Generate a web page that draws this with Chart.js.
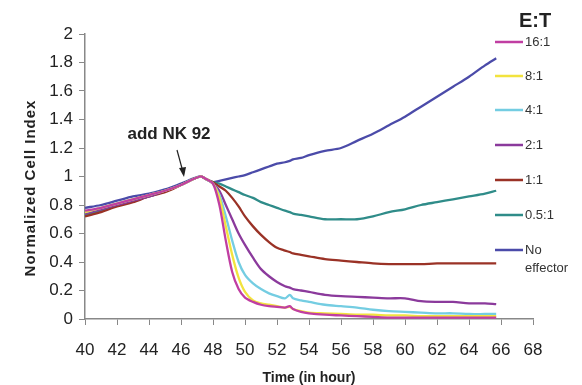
<!DOCTYPE html>
<html>
<head>
<meta charset="utf-8">
<script src="https://cdn.jsdelivr.net/npm/chart.js@4/dist/chart.umd.min.js"></script>
<style>
  html, body { margin: 0; padding: 0; background: #fff; }
  #wrap { width: 582px; height: 385px; }
</style>
</head>
<body>
<div id="wrap"><canvas id="cellChart" width="582" height="385"></canvas></div>
<script>
// time points (hours) shared by all curves
const hours = [40, 41, 42, 43, 44, 45, 46, 47.2, 47.6, 48, 48.4, 48.8, 49.2, 49.6, 50, 50.5, 51, 51.5, 52, 52.5,
  52.8, 53, 53.5, 54, 55, 56, 57, 58, 59, 60, 61, 62, 63, 64, 65, 65.7];

const ratioLabels = ['16:1', '8:1', '4:1', '2:1', '1:1', '0.5:1', 'No effector'];
const ratioColors = ['#c03ea2', '#f2e33e', '#74cde2', '#8b3a9c', '#9a3226', '#2f8c89', '#4b4ba9'];

const et16 = [0.76, 0.78, 0.81, 0.84, 0.87, 0.90, 0.94, 1.00, 0.98, 0.95, 0.80, 0.55, 0.33, 0.21, 0.15, 0.12, 0.10, 0.09, 0.085, 0.08,
  0.09, 0.07, 0.05, 0.04, 0.03, 0.025, 0.02, 0.015, 0.01, 0.01, 0.01, 0.01, 0.01, 0.01, 0.01, 0.01];
const et8 = [0.75, 0.78, 0.81, 0.84, 0.87, 0.90, 0.94, 1.00, 0.98, 0.95, 0.85, 0.65, 0.45, 0.29, 0.19, 0.13, 0.11, 0.10, 0.09, 0.08,
  0.085, 0.07, 0.055, 0.045, 0.04, 0.035, 0.03, 0.03, 0.025, 0.025, 0.02, 0.02, 0.02, 0.02, 0.02, 0.02];
const et4 = [0.75, 0.78, 0.81, 0.84, 0.87, 0.90, 0.94, 1.00, 0.98, 0.95, 0.87, 0.72, 0.55, 0.40, 0.31, 0.25, 0.21, 0.18, 0.16, 0.145,
  0.17, 0.145, 0.13, 0.12, 0.10, 0.09, 0.08, 0.065, 0.055, 0.05, 0.045, 0.04, 0.04, 0.035, 0.035, 0.035];
const et2 = [0.74, 0.77, 0.80, 0.83, 0.86, 0.90, 0.94, 1.00, 0.98, 0.95, 0.90, 0.80, 0.70, 0.60, 0.52, 0.43, 0.35, 0.30, 0.26, 0.23,
  0.22, 0.21, 0.20, 0.19, 0.17, 0.16, 0.155, 0.15, 0.145, 0.145, 0.125, 0.12, 0.12, 0.11, 0.11, 0.105];
const et1 = [0.72, 0.75, 0.79, 0.82, 0.86, 0.89, 0.94, 1.00, 0.98, 0.96, 0.93, 0.90, 0.85, 0.79, 0.72, 0.65, 0.59, 0.54, 0.50, 0.48,
  0.47, 0.46, 0.45, 0.44, 0.42, 0.41, 0.40, 0.39, 0.385, 0.385, 0.385, 0.39, 0.39, 0.39, 0.39, 0.39];
const etHalf = [0.73, 0.76, 0.80, 0.83, 0.86, 0.90, 0.94, 1.00, 0.98, 0.96, 0.95, 0.93, 0.91, 0.89, 0.87, 0.85, 0.82, 0.80, 0.78, 0.76,
  0.75, 0.74, 0.73, 0.72, 0.70, 0.70, 0.70, 0.72, 0.75, 0.77, 0.80, 0.82, 0.84, 0.86, 0.88, 0.90];
const noEffector = [0.78, 0.80, 0.83, 0.86, 0.88, 0.91, 0.95, 1.00, 0.98, 0.96, 0.97, 0.98, 0.99, 1.00, 1.01, 1.03, 1.05, 1.07, 1.09, 1.10,
  1.11, 1.12, 1.13, 1.15, 1.18, 1.20, 1.25, 1.30, 1.36, 1.42, 1.49, 1.56, 1.63, 1.70, 1.78, 1.83];

const seriesValues = [et16, et8, et4, et2, et1, etHalf, noEffector];

const fontFam = '"Liberation Sans", Arial, sans-serif';

// legend, y title and the "add NK 92" note
const extrasPlugin = {
  id: 'extras',
  afterDraw(chart) {
    const ctx = chart.ctx;
    ctx.save();

    // y axis title
    ctx.fillStyle = '#222';
    ctx.font = 'bold 15px ' + fontFam;
    ctx.letterSpacing = '1px';
    ctx.textAlign = 'center';
    ctx.textBaseline = 'middle';
    ctx.translate(31, 188);
    ctx.rotate(-Math.PI / 2);
    ctx.fillText('Normalized Cell Index', 0, 0);
    ctx.setTransform(1, 0, 0, 1, 0, 0);
    ctx.letterSpacing = '0px';

    // annotation
    ctx.font = 'bold 17px ' + fontFam;
    ctx.fillText('add NK 92', 169, 134);
    ctx.strokeStyle = '#222';
    ctx.lineWidth = 1.2;
    ctx.beginPath();
    ctx.moveTo(177, 150);
    ctx.lineTo(183, 172);
    ctx.stroke();
    ctx.beginPath();
    ctx.moveTo(184, 177);
    ctx.lineTo(179, 168);
    ctx.lineTo(186, 167);
    ctx.closePath();
    ctx.fillStyle = '#222';
    ctx.fill();

    // legend
    ctx.font = 'bold 20px ' + fontFam;
    ctx.fillText('E:T', 535, 21);
    ctx.font = '13px ' + fontFam;
    ctx.textAlign = 'left';
    ctx.fillStyle = '#333';
    const rowY = [42, 76, 110, 145, 180, 215, 250];
    chart.data.datasets.forEach((ds, i) => {
      const y = rowY[i];
      ctx.strokeStyle = ds.borderColor;
      ctx.lineWidth = 2.5;
      ctx.beginPath();
      ctx.moveTo(495, y);
      ctx.lineTo(523, y);
      ctx.stroke();
      if (ds.label === 'No effector') {
        ctx.fillText('No', 525, y);
        ctx.fillText('effector', 525, y + 18);
      } else {
        ctx.fillText(ds.label, 525, y);
      }
    });
    ctx.restore();
  }
};

const datasets = ratioLabels.map((label, i) => ({
  label: label,
  data: hours.map((h, j) => ({ x: h, y: seriesValues[i][j] })),
  borderColor: ratioColors[i],
  borderWidth: 2.3,
  pointRadius: 0,
  tension: 0.3,
  fill: false
}));

const ctx = document.getElementById('cellChart').getContext('2d');
new Chart(ctx, {
  type: 'line',
  data: { datasets: datasets },
  options: {
    responsive: false,
    animation: false,
    layout: { padding: { top: 34, right: 49, left: 0, bottom: 0 } },
    plugins: {
      legend: { display: false },
      tooltip: { enabled: false }
    },
    scales: {
      x: {
        type: 'linear',
        min: 40,
        max: 68,
        afterFit: s => { s.height = 66; },
        ticks: {
          stepSize: 2,
          autoSkip: false,
          maxRotation: 0,
          padding: 15,
          color: '#222',
          font: { size: 17, family: fontFam }
        },
        grid: { drawOnChartArea: false, tickLength: 6, tickColor: '#888' },
        border: { color: '#888', width: 1.5 },
        title: {
          display: true,
          text: 'Time (in hour)',
          color: '#222',
          padding: { top: 0, bottom: 0 },
          font: { size: 14, weight: 'bold', family: fontFam, lineHeight: 1 }
        }
      },
      y: {
        min: 0,
        max: 2,
        afterFit: s => { s.width = 85; },
        ticks: {
          stepSize: 0.2,
          padding: 6,
          color: '#222',
          font: { size: 17, family: fontFam },
          callback: v => String(Math.round(v * 10) / 10)
        },
        grid: { drawOnChartArea: false, tickLength: 6, tickColor: '#888' },
        border: { color: '#888', width: 1.5 }
      }
    }
  },
  plugins: [extrasPlugin]
});
</script>
</body>
</html>
